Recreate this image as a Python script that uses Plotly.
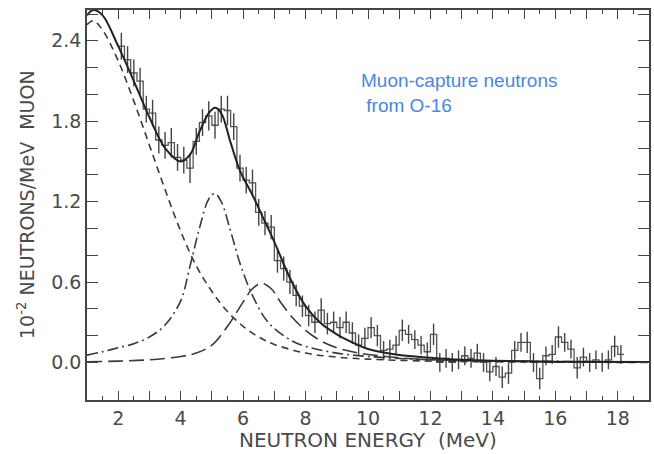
import numpy as np
import plotly.graph_objects as go

# ---------------- data ----------------
bin_width = 0.2
bin_lo = np.round(np.arange(2.0, 18.01, bin_width), 1)  # lower bin edges (MeV)

counts = [2.36, 2.26, 2.16, 2.10, 1.89, 1.86, 1.66, 1.62, 1.64, 1.53,
          1.51, 1.45, 1.65, 1.79, 1.84, 1.77, 1.89, 1.88, 1.76, 1.45,
          1.36, 1.34, 1.12, 1.04, 1.01, 0.76, 0.70, 0.60, 0.50, 0.42,
          0.35, 0.30, 0.39, 0.29, 0.30, 0.26, 0.30, 0.22, 0.13, 0.18,
          0.26, 0.20, 0.09, 0.10, 0.13, 0.24, 0.21, 0.17, 0.13, 0.08,
          0.21, 0.00, 0.03, 0.00, 0.02, 0.05, 0.03, 0.07, 0.00, -0.07,
          -0.03, -0.11, -0.08, 0.09, 0.15, 0.15, 0.00, -0.12, 0.05, 0.06,
          0.19, 0.15, 0.10, -0.04, 0.04, 0.00, 0.02, 0.00, 0.02, 0.12,
          0.06]

errors = [0.10, 0.10, 0.10, 0.10, 0.10, 0.10, 0.10, 0.10, 0.11, 0.10,
          0.10, 0.11, 0.10, 0.10, 0.11, 0.10, 0.10, 0.11, 0.10, 0.10,
          0.10, 0.10, 0.10, 0.09, 0.09, 0.09, 0.09, 0.09, 0.08, 0.08,
          0.08, 0.08, 0.09, 0.08, 0.08, 0.08, 0.08, 0.08, 0.08, 0.08,
          0.08, 0.08, 0.07, 0.07, 0.07, 0.08, 0.07, 0.07, 0.07, 0.07,
          0.08, 0.07, 0.07, 0.07, 0.07, 0.07, 0.07, 0.07, 0.07, 0.07,
          0.07, 0.08, 0.08, 0.07, 0.07, 0.08, 0.07, 0.08, 0.07, 0.07,
          0.08, 0.07, 0.07, 0.08, 0.07, 0.07, 0.07, 0.07, 0.07, 0.08,
          0.07]

# total fit (solid)
fit_e = [1.0, 1.2, 1.5, 2.0, 2.5, 3.0, 3.5, 4.0, 4.3, 4.6, 4.9, 5.1, 5.3,
         5.6, 5.9, 6.3, 6.6, 7.0, 7.5, 8.0, 8.5, 9.0, 9.5, 10.0, 11.0,
         12.0, 13.0, 14.0, 16.0, 19.0]
fit_v = [2.59, 2.63, 2.59, 2.36, 2.10, 1.83, 1.60, 1.50, 1.55, 1.72, 1.86,
         1.90, 1.86, 1.64, 1.43, 1.25, 1.10, 0.90, 0.63, 0.42, 0.29, 0.21,
         0.15, 0.10, 0.055, 0.035, 0.02, 0.012, 0.006, 0.003]

# evaporation component (short dashes)
evap_e = [1.0, 1.2, 1.5, 2.0, 2.5, 3.0, 3.5, 4.0, 4.5, 5.0, 5.5, 6.0, 6.5,
          7.0, 8.0, 9.0, 10.0, 12.0, 14.0, 19.0]
evap_v = [2.52, 2.55, 2.48, 2.25, 1.95, 1.62, 1.29, 0.98, 0.72, 0.53, 0.38,
          0.27, 0.19, 0.135, 0.07, 0.04, 0.025, 0.01, 0.005, 0.0]

# 5 MeV resonance component (dash-dot)
res1_e = [1.0, 1.5, 2.0, 2.5, 3.0, 3.5, 4.0, 4.3, 4.6, 4.9, 5.1, 5.3, 5.6,
          5.9, 6.3, 6.8, 7.5, 8.0, 9.0, 10.0, 12.0, 14.0, 16.0, 19.0]
res1_v = [0.055, 0.08, 0.11, 0.14, 0.19, 0.28, 0.46, 0.72, 1.00, 1.22, 1.26,
          1.20, 0.98, 0.74, 0.50, 0.30, 0.17, 0.12, 0.07, 0.045, 0.02, 0.012,
          0.008, 0.005]

# 6.6 MeV resonance component (long dashes)
res2_e = [1.0, 2.0, 3.0, 4.0, 4.5, 5.0, 5.5, 6.0, 6.3, 6.6, 6.9, 7.2, 7.6,
          8.0, 8.5, 9.0, 9.5, 10.0, 11.0, 12.0, 14.0, 16.0, 19.0]
res2_v = [0.005, 0.01, 0.02, 0.045, 0.07, 0.13, 0.27, 0.45, 0.55, 0.59, 0.55,
          0.45, 0.33, 0.24, 0.16, 0.11, 0.08, 0.06, 0.035, 0.02, 0.01, 0.005,
          0.002]

x_tick_vals = list(range(1, 20))
x_tick_text = [str(v) if v % 2 == 0 else " " for v in x_tick_vals]
y_tick_vals = [round(v * 0.2, 1) for v in range(0, 14)]
y_label_set = {0.0: "0.0", 0.6: "0.6", 1.2: "1.2", 1.8: "1.8", 2.4: "2.4"}
y_tick_text = [y_label_set.get(v, " ") for v in y_tick_vals]

# ---------------- figure ----------------
INK = "#3a3a3a"
TXT = "#4a4a4a"
FONT = "DejaVu Sans"

fig = go.Figure()

edges = list(bin_lo) + [round(bin_lo[-1] + bin_width, 1)]
centers = [round(b + bin_width / 2, 2) for b in bin_lo]

fig.add_trace(go.Scatter(
    x=edges, y=list(counts) + [counts[-1]], mode="lines",
    line=dict(shape="hv", color="#555555", width=1.3),
    showlegend=False, hoverinfo="skip"))

fig.add_trace(go.Scatter(
    x=centers, y=counts, mode="markers",
    marker=dict(size=1, color="rgba(0,0,0,0)"),
    error_y=dict(type="data", array=errors, visible=True,
                 width=0, thickness=1.4, color="#444444"),
    showlegend=False, hoverinfo="skip"))

fig.add_trace(go.Scatter(
    x=evap_e, y=evap_v, mode="lines",
    line=dict(shape="spline", color=INK, width=1.6, dash="7px,5px"),
    showlegend=False))

fig.add_trace(go.Scatter(
    x=res1_e, y=res1_v, mode="lines",
    line=dict(shape="spline", color=INK, width=1.6, dash="11px,4px,2px,4px"),
    showlegend=False))

fig.add_trace(go.Scatter(
    x=res2_e, y=res2_v, mode="lines",
    line=dict(shape="spline", color=INK, width=1.6, dash="15px,6px"),
    showlegend=False))

fig.add_trace(go.Scatter(
    x=fit_e, y=fit_v, mode="lines",
    line=dict(shape="spline", color="#222222", width=2.0),
    showlegend=False))

axis_common = dict(
    showline=True, linecolor="#444444", linewidth=1.6, mirror="ticks",
    ticks="inside", tickcolor="#444444", tickwidth=1.3,
    showgrid=False, zeroline=False,
    tickfont=dict(family=FONT, size=19, color=TXT),
)

fig.update_xaxes(range=[1, 19], tickmode="array", tickvals=x_tick_vals,
                 ticktext=x_tick_text, ticklen=9,
                 minor=dict(ticks="inside", tick0=1, dtick=0.5, ticklen=4,
                            tickcolor="#444444", tickwidth=1.2),
                 **axis_common)
fig.update_yaxes(range=[-0.28, 2.63], tickmode="array", tickvals=y_tick_vals,
                 ticktext=y_tick_text, ticklen=11, **axis_common)

fig.add_annotation(
    text="NEUTRON ENERGY  (MeV)", xref="paper", yref="paper",
    x=0.5, y=0, yshift=-40, showarrow=False,
    font=dict(family=FONT, size=20, color=TXT),
    xanchor="center", yanchor="middle")

fig.add_annotation(
    text="10<sup>-2</sup> NEUTRONS/MeV  MUON", xref="paper", yref="paper",
    x=0, xshift=-61, y=0.5, showarrow=False, textangle=-90,
    font=dict(family=FONT, size=19, color=TXT),
    xanchor="center", yanchor="middle")

fig.add_annotation(
    text="Muon-capture neutrons<br> from O-16", xref="paper", yref="paper",
    x=(360 - 87) / 564, y=(400 - 68) / 390, showarrow=False,
    align="left", xanchor="left", yanchor="top",
    font=dict(family="Liberation Sans", size=19, color="#4a86e8"))

fig.update_layout(
    width=654, height=454,
    margin=dict(l=87, r=3, t=10, b=54),
    paper_bgcolor="white", plot_bgcolor="white",
    showlegend=False,
)

fig.write_html("out.html")
